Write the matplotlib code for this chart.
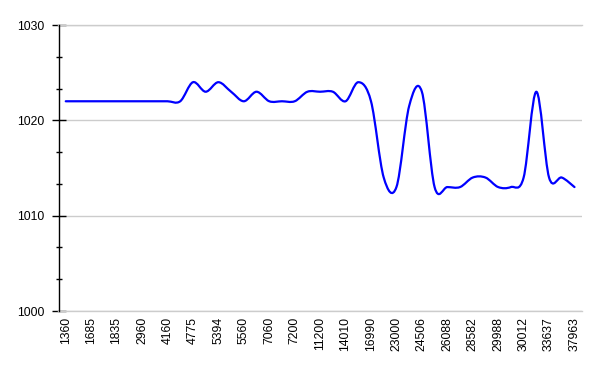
import numpy as np
import matplotlib
matplotlib.use('Agg')
import matplotlib.pyplot as plt
from matplotlib.path import Path
from matplotlib.patches import PathPatch

plt.rcParams['font.family'] = ['Liberation Sans', 'DejaVu Sans']

# labels shown on the x axis (every other category)
tick_labels = ['1360', '1685', '1835', '2960', '4160', '4775', '5394', '5560',
               '7060', '7200', '11200', '14010', '16990', '23000', '24506',
               '26088', '28582', '29988', '30012', '33637', '37963']

# one value per category (41 points)
pressure = [1022, 1022, 1022, 1022, 1022, 1022, 1022, 1022, 1022, 1022,
            1024, 1023, 1024, 1023, 1022, 1023, 1022, 1022, 1022, 1023,
            1023, 1023, 1022, 1024, 1022, 1014, 1013, 1021.5, 1023, 1013,
            1013, 1013, 1014, 1014, 1013, 1013, 1014, 1023, 1014, 1014,
            1013]

y_ticks = [1000, 1010, 1020, 1030]

x = np.arange(len(pressure))
y = np.array(pressure, dtype=float)

fig = plt.figure(figsize=(6, 3.71), dpi=100)
ax = fig.add_axes([58.5 / 600, 1 - 311 / 371, (582 - 58.5) / 600, (311 - 25) / 371])

# smoothed line (catmull-rom segments as bezier curves in data coords)
pts = np.column_stack([x, y])
ext = np.vstack([pts[0], pts, pts[-1]])
verts = [pts[0]]
codes = [Path.MOVETO]
for i in range(len(pts) - 1):
    p0, p1, p2, p3 = ext[i], ext[i + 1], ext[i + 2], ext[i + 3]
    verts += [p1 + (p2 - p0) / 6, p2 - (p3 - p1) / 6, p2]
    codes += [Path.CURVE4] * 3
ax.add_patch(PathPatch(Path(verts, codes), facecolor='none', edgecolor='#0000ff',
                       lw=1.6, capstyle='round', joinstyle='round', zorder=3))

ax.set_xlim(-0.57, len(pressure) - 1 + 0.59)
ax.set_ylim(1000, 1030)

ax.set_yticks(y_ticks)
ax.set_yticks([t + d for t in y_ticks[:-1] for d in (10 / 3, 20 / 3)], minor=True)
ax.set_xticks(x[::2])
ax.set_xticklabels(tick_labels, rotation=90, fontsize=8.8)
ax.tick_params(axis='x', length=0, pad=4.2)
ax.tick_params(axis='y', which='major', direction='inout', length=10, width=1,
               labelsize=8.8, pad=4.9)
ax.tick_params(axis='y', which='minor', direction='inout', length=5, width=1)

ax.yaxis.grid(True, color='#cccccc', lw=1)
ax.set_axisbelow(True)
for side in ['top', 'bottom']:
    ax.spines[side].set_color('#cccccc')
    ax.spines[side].set_linewidth(1)
ax.spines['right'].set_visible(False)
ax.spines['left'].set_color('black')
ax.spines['left'].set_linewidth(1)
ax.spines['left'].set_zorder(4)

plt.savefig('out.png', dpi=100)
